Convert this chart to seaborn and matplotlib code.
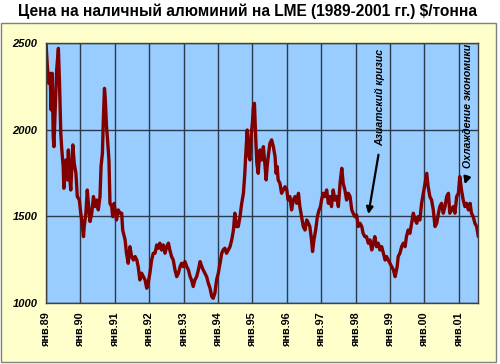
import pandas as pd
import seaborn as sns
import matplotlib.pyplot as plt
from matplotlib.patches import Rectangle

# LME cash aluminium price (decimal year, $/t)
years = [1989.00, 1989.04, 1989.08, 1989.12, 1989.15, 1989.18, 1989.21, 1989.23, 1989.27, 1989.31,
         1989.36, 1989.39, 1989.41, 1989.43, 1989.46, 1989.50, 1989.52, 1989.58, 1989.62, 1989.65,
         1989.68, 1989.72, 1989.75, 1989.78, 1989.82, 1989.87, 1989.91, 1989.97, 1990.01, 1990.05,
         1990.09, 1990.11, 1990.16, 1990.20, 1990.24, 1990.28, 1990.33, 1990.38, 1990.42, 1990.47,
         1990.52, 1990.57, 1990.60, 1990.64, 1990.67, 1990.70, 1990.72, 1990.76, 1990.79, 1990.83,
         1990.86, 1990.91, 1990.94, 1990.98, 1991.02, 1991.05, 1991.10, 1991.15, 1991.20, 1991.23,
         1991.30, 1991.34, 1991.39, 1991.44, 1991.49, 1991.54, 1991.59, 1991.64, 1991.68, 1991.73,
         1991.78, 1991.83, 1991.88, 1991.93, 1991.97, 1992.02, 1992.07, 1992.12,
         1992.17, 1992.22, 1992.27, 1992.31, 1992.36, 1992.41, 1992.46, 1992.51, 1992.56, 1992.60,
         1992.65, 1992.70, 1992.75, 1992.80, 1992.85, 1992.90, 1992.94, 1992.99, 1993.04, 1993.09,
         1993.14, 1993.19, 1993.23, 1993.28, 1993.33, 1993.38, 1993.43, 1993.48, 1993.53, 1993.57,
         1993.62, 1993.67, 1993.72, 1993.77, 1993.82, 1993.86, 1993.91, 1993.96, 1994.01, 1994.06,
         1994.11, 1994.15, 1994.20, 1994.25, 1994.30, 1994.35, 1994.40, 1994.45, 1994.49, 1994.54,
         1994.59, 1994.64, 1994.69, 1994.74, 1994.78, 1994.81, 1994.85, 1994.88, 1994.93, 1994.96,
         1995.00, 1995.03, 1995.06, 1995.10, 1995.13, 1995.17,
         1995.22, 1995.27, 1995.32, 1995.37, 1995.40, 1995.43, 1995.46, 1995.51, 1995.56, 1995.61,
         1995.66, 1995.69, 1995.72, 1995.75, 1995.80, 1995.85, 1995.90, 1995.95, 1996.00, 1996.04,
         1996.09, 1996.14, 1996.19, 1996.24, 1996.29, 1996.34, 1996.38, 1996.43, 1996.48, 1996.53,
         1996.58, 1996.63, 1996.67, 1996.72, 1996.75, 1996.79, 1996.84, 1996.89, 1996.94, 1996.98,
         1997.01, 1997.06, 1997.11, 1997.16, 1997.21, 1997.26, 1997.30, 1997.35, 1997.40, 1997.45,
         1997.50, 1997.55, 1997.60, 1997.64, 1997.69, 1997.74, 1997.79, 1997.84, 1997.89, 1997.93,
         1997.98, 1998.03, 1998.08, 1998.13, 1998.18, 1998.22, 1998.27,
         1998.32, 1998.37, 1998.42, 1998.47, 1998.52, 1998.56, 1998.61, 1998.66, 1998.71, 1998.76,
         1998.81, 1998.86, 1998.90, 1998.95, 1999.00, 1999.05, 1999.10, 1999.15, 1999.17, 1999.21,
         1999.24, 1999.29, 1999.34, 1999.39, 1999.44, 1999.48, 1999.53, 1999.58, 1999.63, 1999.68,
         1999.73, 1999.78, 1999.82, 1999.87, 1999.92, 1999.97, 2000.02, 2000.07, 2000.11, 2000.16,
         2000.21, 2000.26, 2000.31, 2000.36, 2000.41, 2000.45, 2000.50, 2000.55, 2000.60, 2000.65,
         2000.70, 2000.74, 2000.79, 2000.84, 2000.89, 2000.94, 2000.99, 2001.03, 2001.08, 2001.13,
         2001.18, 2001.23, 2001.28, 2001.33, 2001.37, 2001.42, 2001.47, 2001.52, 2001.57]
prices = [2498, 2363, 2267, 2325, 2114, 2325, 1960, 1902, 2133, 2344,
          2469, 2287, 2133, 1979, 1883, 1787, 1662, 1825, 1710, 1883,
          1748, 1652, 1787, 1912, 1806, 1748, 1614, 1594, 1518, 1460,
          1383, 1441, 1518, 1652, 1556, 1470, 1518, 1614, 1556, 1594,
          1537, 1614, 1787, 1864, 2075, 2238, 2190, 2017, 1941, 1825,
          1575, 1556, 1498, 1575, 1518, 1479, 1537, 1518, 1518, 1421,
          1364, 1287, 1229, 1325, 1268, 1248, 1268, 1248, 1210, 1133,
          1172, 1152, 1133, 1085, 1114, 1172, 1248, 1287,
          1287, 1335, 1316, 1345, 1306, 1335, 1287, 1325, 1345, 1306,
          1268, 1248, 1191, 1152, 1172, 1210, 1229, 1210, 1239, 1210,
          1191, 1152, 1133, 1095, 1133, 1152, 1191, 1239, 1210, 1191,
          1172, 1152, 1114, 1085, 1037, 1027, 1056, 1133, 1172, 1229,
          1287, 1306, 1316, 1287, 1306, 1325, 1364, 1421, 1518, 1441,
          1441, 1498, 1575, 1633, 1748, 1864, 1998, 1864, 1825, 1960,
          2037, 2133, 2152, 1941, 1806, 1748,
          1883, 1825, 1902, 1787, 1710, 1787, 1844, 1921, 1941, 1902,
          1844, 1748, 1787, 1710, 1691, 1633, 1652, 1671, 1652, 1594,
          1614, 1537, 1594, 1614, 1575, 1633, 1556, 1498, 1441, 1421,
          1479, 1460, 1441, 1364, 1297, 1364, 1421, 1498, 1537, 1556,
          1594, 1633, 1614, 1652, 1575, 1614, 1556, 1652, 1594, 1614,
          1556, 1691, 1777, 1691, 1652, 1594, 1633, 1614, 1537, 1518,
          1498, 1508, 1441, 1460, 1441, 1402, 1383,
          1383, 1345, 1364, 1306, 1345, 1383, 1325, 1345, 1306, 1325,
          1287, 1248, 1268, 1248, 1229, 1210, 1191, 1152, 1172, 1210,
          1268, 1287, 1325, 1345, 1325, 1383, 1421, 1402, 1460, 1518,
          1479, 1460, 1498, 1479, 1575, 1633, 1691, 1748, 1671, 1614,
          1594, 1537, 1441, 1460, 1518, 1556, 1575, 1518, 1556, 1614,
          1633, 1518, 1537, 1556, 1518, 1614, 1633, 1729, 1652, 1594,
          1556, 1575, 1537, 1575, 1518, 1498, 1460, 1441, 1383]

year_ticks = list(range(1989, 2002))
year_labels = ['янв.%02d' % (y % 100) for y in year_ticks]
price_ticks = [1000, 1500, 2000, 2500]

df = pd.DataFrame({'year': years, 'price': prices})

sns.set_style('white')
plt.rcParams['font.family'] = ['Liberation Sans', 'DejaVu Sans']

fig = plt.figure(figsize=(5, 3.64), dpi=100)
fig.patches.append(Rectangle((0.002, 0.0055), 0.99, 0.931, transform=fig.transFigure,
                             facecolor='#FFFFCC', edgecolor='#808080', lw=1, zorder=-10))
fig.text(0.496, 0.968, 'Цена на наличный алюминий на LME (1989-2001 гг.) $/тонна',
         ha='center', va='center', fontsize=11.2, fontweight='bold', color='black')

ax = fig.add_axes([0.092, 0.1676, 0.864, 0.7143])
ax.set_facecolor('#99CCFF')
sns.lineplot(data=df, x='year', y='price', color='#800000', lw=2.4, ax=ax,
             estimator=None, sort=False)

ax.set_xlim(1989, 2001.56)
ax.set_ylim(1000, 2500)
ax.set_xticks(year_ticks)
ax.set_xticklabels(year_labels, rotation=90, fontsize=7.8, fontweight='bold')
ax.set_yticks(price_ticks)
ax.set_yticklabels([str(p) for p in price_ticks], fontsize=8, fontweight='bold', style='italic')
ax.tick_params(axis='both', direction='out', length=3, width=1, color='#404040', pad=3,
               labelcolor='black')
ax.grid(True, color='#2a3a4a', lw=1)
for s in ax.spines.values():
    s.set_color('#404040')
    s.set_linewidth(1)
ax.set_xlabel('')
ax.set_ylabel('')

# annotations
ax.annotate('', xy=(1998.36, 1497), xytext=(1998.68, 1871),
            arrowprops=dict(arrowstyle='-|>', color='black', lw=1.6, mutation_scale=10))
ax.text(1998.71, 1905, 'Азиатский кризис', rotation=90, ha='center', va='bottom',
        fontsize=7.6, fontweight='bold', style='italic', color='black')
ax.annotate('', xy=(2001.15, 1670), xytext=(2001.27, 1745),
            arrowprops=dict(arrowstyle='-|>', color='black', lw=1.6, mutation_scale=10))
ax.text(2001.27, 1779, 'Охлаждение экономики', rotation=90, ha='center', va='bottom',
        fontsize=7.6, fontweight='bold', style='italic', color='black')

fig.savefig('out.png', dpi=100)
